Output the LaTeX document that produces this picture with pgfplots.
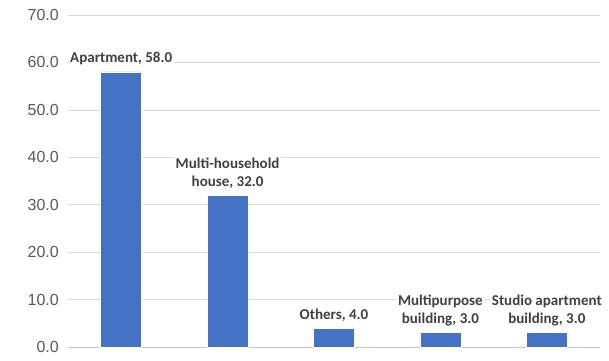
\documentclass[border=0pt]{standalone}
\usepackage{pgfplots}
\pgfplotsset{compat=1.18}
\usepackage{fontspec}
\setmainfont{Liberation Sans}
\newfontfamily\labelfont{Carlito}
\definecolor{barblue}{HTML}{4472C4}
\definecolor{gridgray}{HTML}{D9D9D9}
\definecolor{ticktext}{HTML}{595959}
\definecolor{labeltext}{HTML}{404040}
\begin{document}
\begin{tikzpicture}
\useasboundingbox (-68pt,-13pt) rectangle (541pt,347pt);
\begin{axis}[
  at={(0,0)}, anchor=south west,
  scale only axis,
  width=532pt, height=332pt,
  xmin=-0.5, xmax=4.5,
  ymin=0, ymax=70,
  ytick={0,10,...,70},
  xtick=\empty,
  axis line style={draw=none},
  ymajorgrids,
  grid style={gridgray, line width=0.7pt},
  major tick length=0pt,
  yticklabel style={font=\fontsize{16}{18}\selectfont\color{ticktext}, anchor=east, inner sep=0pt, xshift=-9pt},
  /pgf/number format/assume math mode=true,
  yticklabel={\pgfmathprintnumber[fixed, fixed zerofill, precision=1]{\tick}},
  clip=false,
]
\draw[gridgray!80!gray, line width=0.8pt] (axis cs:-0.5,0) -- (axis cs:4.5,0);
\addplot[ybar, bar width=41pt, fill=barblue, draw=white, line width=0.8pt,
  point meta=explicit symbolic,
  nodes near coords,
  nodes near coords style={font=\labelfont\bfseries\fontsize{15}{17.5}\selectfont,
    text=labeltext, align=center, fill=white, inner sep=1.5pt, anchor=south, yshift=5pt},
] coordinates {
  (0,58) [Apartment, 58.0]
  (1,32) [Multi-household\\house, 32.0]
  (2,4) [Others, 4.0]
  (3,3) [Multipurpose\\building, 3.0]
  (4,3) [Studio apartment\\building, 3.0]
};
\end{axis}
\end{tikzpicture}
\end{document}
